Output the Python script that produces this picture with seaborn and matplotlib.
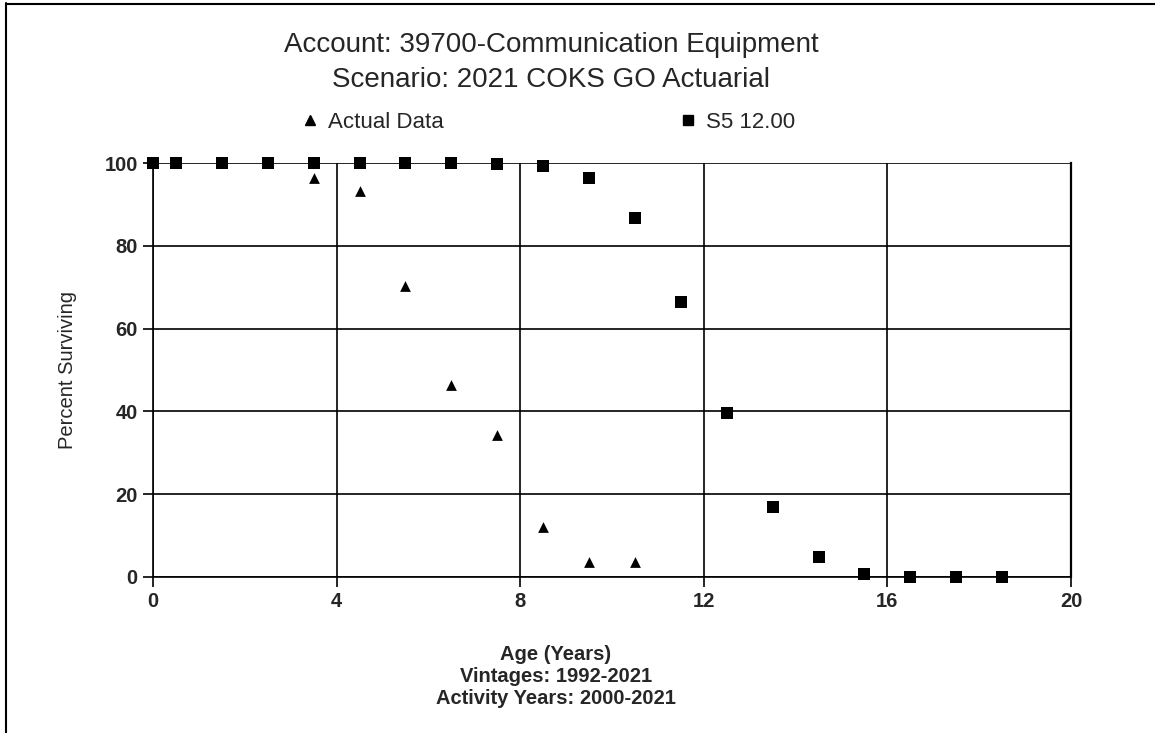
import matplotlib
matplotlib.use("Agg")
import matplotlib.pyplot as plt
import seaborn as sns
import pandas as pd
from matplotlib.lines import Line2D

sns.set_theme(style="white")
plt.rcParams['font.family'] = ['Liberation Sans', 'DejaVu Sans']

# Data
actual_age = [0, 0.5, 1.5, 2.5, 3.5, 4.5, 5.5, 6.5, 7.5, 8.5, 9.5, 10.5]
actual_pct = [100, 100, 100, 100, 96.4, 93.2, 70.4, 46.4, 34.3, 12.1, 3.7, 3.7]
curve_age = [0, 0.5, 1.5, 2.5, 3.5, 4.5, 5.5, 6.5, 7.5, 8.5, 9.5, 10.5, 11.5, 12.5, 13.5, 14.5, 15.5, 16.5, 17.5, 18.5]
curve_pct = [100, 100, 100, 100, 100, 100, 100, 100, 99.8, 99.3, 96.4, 86.8, 66.5, 39.7, 16.9, 4.8, 0.8, 0.1, 0.0, 0.0]
series_names = ["Actual Data", "S5 12.00"]
x_ticks = [0, 4, 8, 12, 16, 20]
y_ticks = [0, 20, 40, 60, 80, 100]

df = pd.DataFrame({
    "Age": actual_age + curve_age,
    "Percent": actual_pct + curve_pct,
    "Series": [series_names[0]] * len(actual_age) + [series_names[1]] * len(curve_age),
})

fig = plt.figure(figsize=(11.55, 7.33), dpi=100)
ax = fig.add_axes([153/1155, 1-577/733, (1071-153)/1155, (577-163)/733])

sub_sq = df[df.Series == series_names[1]]
sub_tr = df[df.Series == series_names[0]]
sns.scatterplot(data=sub_sq, x="Age", y="Percent", marker="s", s=75, color="black",
                edgecolor="black", linewidth=0, ax=ax, zorder=3, legend=False, clip_on=False)
sns.scatterplot(data=sub_tr, x="Age", y="Percent", marker="^", s=60, color="black",
                edgecolor="black", linewidth=0, ax=ax, zorder=4, legend=False, clip_on=False)

ax.set_xlim(0, 20)
ax.set_ylim(0, 100)
ax.set_xticks(x_ticks)
ax.set_yticks(y_ticks)
ax.set_xticklabels([str(v) for v in x_ticks], fontsize=14.5, fontweight="bold")
ax.set_yticklabels([str(v) for v in y_ticks], fontsize=14.5, fontweight="bold")
ax.tick_params(axis="both", which="major", length=7, width=1.2, color="black",
               direction="out", bottom=True, left=True, pad=4)
ax.grid(True, color="black", linewidth=1.2)
ax.set_axisbelow(True)
for sp in ax.spines.values():
    sp.set_color("black")
    sp.set_linewidth(1.2)
    sp.set_visible(True)
ax.spines["top"].set_visible(False)
ax.spines["right"].set_linewidth(1.6)

ax.set_ylabel("Percent Surviving", fontsize=14.5, labelpad=20)
ax.set_xlabel("")

fig.text(551/1155, 1-45/733, "Account: 39700-Communication Equipment", ha="center", va="center", fontsize=20)
fig.text(551/1155, 1-80/733, "Scenario: 2021 COKS GO Actuarial", ha="center", va="center", fontsize=20)

fig.text(556/1155, 1-655/733, "Age (Years)", ha="center", va="center", fontsize=14.5, fontweight="bold")
fig.text(556/1155, 1-677/733, "Vintages: 1992-2021", ha="center", va="center", fontsize=14.5, fontweight="bold")
fig.text(556/1155, 1-699/733, "Activity Years: 2000-2021", ha="center", va="center", fontsize=14.5, fontweight="bold")

handles = [Line2D([], [], marker="^", linestyle="none", color="black", markersize=7),
           Line2D([], [], marker="s", linestyle="none", color="black", markersize=7)]
fig.legend(handles, series_names, loc="center left", bbox_to_anchor=(290/1155, 1-122/733),
           ncol=2, frameon=False, fontsize=16, columnspacing=10.5, handletextpad=0.3,
           handlelength=1.0, borderaxespad=0)

# Figure border lines (top and left)
fig.add_artist(Line2D([6/1155, 6/1155], [0, 1-3/733], color="black", linewidth=1.5, transform=fig.transFigure))
fig.add_artist(Line2D([6/1155, 1], [1-4/733, 1-4/733], color="black", linewidth=1.5, transform=fig.transFigure))

fig.savefig("out.png", dpi=100)
